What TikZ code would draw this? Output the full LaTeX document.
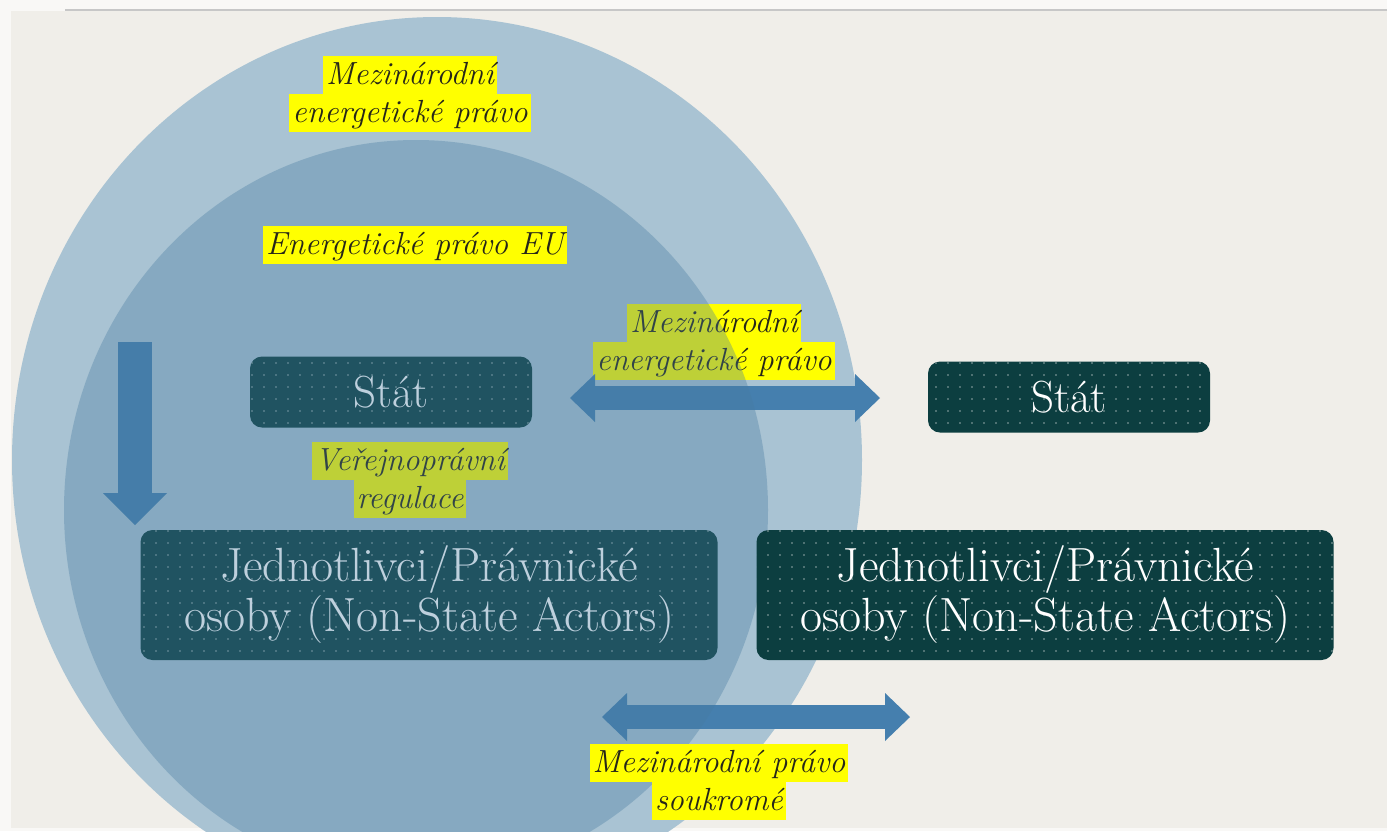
\documentclass[tikz,border=0pt]{standalone}
\usepackage{fontspec}
\usetikzlibrary{positioning,arrows.meta,patterns.meta}

\definecolor{paper}{RGB}{240,238,233}
\definecolor{ringblue}{RGB}{169,195,211}
\definecolor{eublue}{RGB}{71,123,160}
\definecolor{boxteal}{RGB}{12,62,64}
\definecolor{arrowblue}{RGB}{69,127,174}
\definecolor{hlyellow}{RGB}{255,255,0}
\definecolor{labelink}{RGB}{38,38,25}

\begin{document}
\begin{tikzpicture}[x=1pt,y=-1pt,
    statebox/.style={rectangle, rounded corners=12pt, fill=boxteal, text=white,
        minimum width=282pt, minimum height=71pt, font=\fontsize{45}{48}\selectfont,
        postaction={pattern={Dots[distance=12pt,radius=0.9pt]}, pattern color=white!55!boxteal}},
    actorbox/.style={statebox, minimum width=577pt, minimum height=130pt, align=center,
        font=\fontsize{48}{50}\selectfont},
    hl/.style={fill=hlyellow, text=labelink, inner xsep=3pt, inner ysep=1pt,
        text height=27pt, text depth=9pt, font=\fontsize{32}{36}\selectfont\itshape},
    fatarrow/.style={draw=arrowblue, line width=24pt,
        {Triangle[width=48pt,length=25pt,line width=0pt]}-{Triangle[width=48pt,length=25pt,line width=0pt]}},
]
    \useasboundingbox (0,0) rectangle (1387,831);
    \clip (0,0) rectangle (1387,831);

    % Paper and the thin rule at the top
    \fill[white!60!paper] (0,0) rectangle (1387,831);
    \fill[paper] (11,11) rectangle (1387,828);
    \draw[black!22, line width=1.2pt] (65,10) -- (1387,10);

    % Outer ring (international law)
    \fill[ringblue] (437,460) ellipse [x radius=425, y radius=443];

    % Things that lie under the EU circle
    \node[statebox] (statL) at (391,392) {Stát};
    \node[actorbox] (actL) at (429,595) {Jednotlivci/Právnické\\osoby (Non-State Actors)};

    \node[hl] (midA) at (714,323) {Mezinárodní};
    \node[hl, below=0pt of midA] (midB) {energetické právo};
    \node[hl] (regA) at (410,461) {Veřejnoprávní};
    \node[hl, below=0pt of regA] (regB) {regulace};

    \coordinate (downA) at (135,342);
    \coordinate (downB) at (135,525);
    \draw[arrowblue, line width=34pt, -{Triangle[width=64pt,length=32pt,line width=0pt]}] (downA) -- (downB);

    \coordinate (midL) at (570,398);
    \coordinate (midR) at (880,398);
    \draw[fatarrow] (midL) -- (midR);

    \coordinate (botL) at (602,717);
    \coordinate (botR) at (910,717);
    \draw[fatarrow] (botL) -- (botR);

    % EU circle, see-through
    \fill[eublue, opacity=0.35] (416,510) ellipse [x radius=352, y radius=370];

    % Labels and boxes on top
    \node[hl] (topA) at (410,75) {Mezinárodní};
    \node[hl, below=0pt of topA] (topB) {energetické právo};
    \node[hl] (eu) at (415,245) {Energetické právo EU};

    \node[statebox] (statR) at (1069,397) {Stát};
    \node[actorbox] (actR) at (1045,595) {Jednotlivci/Právnické\\osoby (Non-State Actors)};

    \node[hl] (privA) at (719,763) {Mezinárodní právo};
    \node[hl, below=0pt of privA] (privB) {soukromé};

\end{tikzpicture}
\end{document}
